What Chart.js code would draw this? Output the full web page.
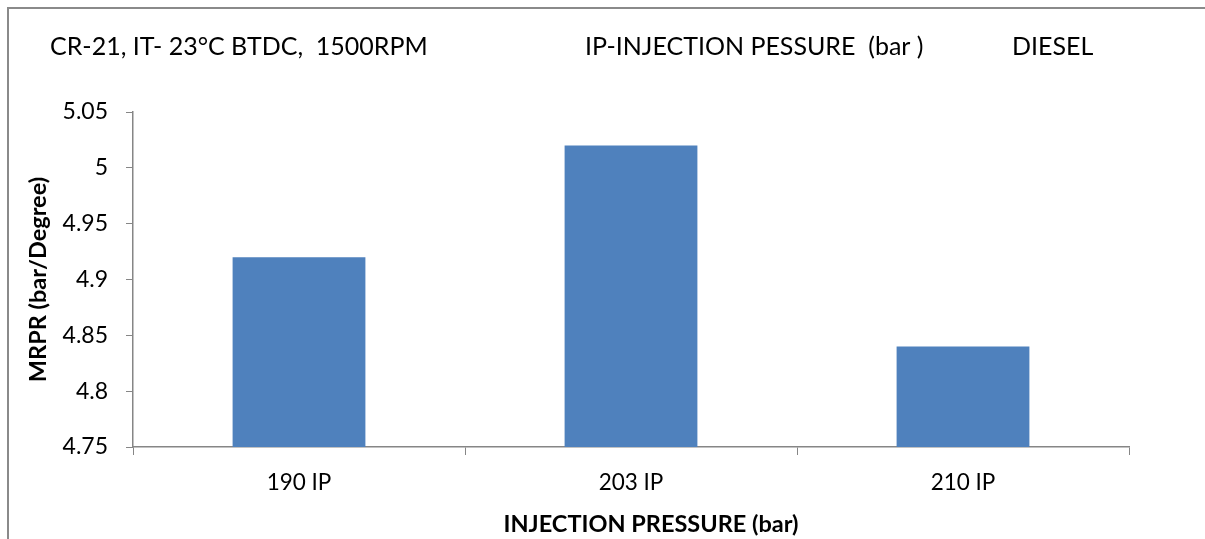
<!DOCTYPE html>
<html>
<head>
<meta charset="utf-8">
<script src="https://cdn.jsdelivr.net/npm/chart.js@4/dist/chart.umd.min.js"></script>
<style>
  html, body { margin: 0; padding: 0; background: #fff; }
  #wrap { width: 1205px; height: 539px; position: relative; }
</style>
</head>
<body>
<div id="wrap"><canvas id="mrpr_chart"></canvas></div>
<script>
// data
const categories = ['190 IP', '203 IP', '210 IP'];
const mrprValues = [4.92, 5.02, 4.84];
const yTicks = [4.75, 4.8, 4.85, 4.9, 4.95, 5, 5.05];

const headerTexts = [
  { text: 'CR-21, IT- 23°C BTDC,  1500RPM', x: 50 },
  { text: 'IP-INJECTION PESSURE  (bar )', x: 585 },
  { text: 'DIESEL', x: 1012 }
];
const xTitle = 'INJECTION PRESSURE (bar)';

const FONT = 'Lato, "Open Sans", sans-serif';

// frame round the chart, header line, x title (sits a bit right of centre)
const frameAndHeader = {
  id: 'frameAndHeader',
  beforeDraw(chart) {
    const ctx = chart.ctx;
    ctx.save();
    ctx.fillStyle = '#fff';
    ctx.fillRect(0, 0, chart.width, chart.height);
    ctx.strokeStyle = '#8a8a8a';
    ctx.lineWidth = 2;
    ctx.strokeRect(8, 8, 1220, 600);
    ctx.restore();
  },
  afterDraw(chart) {
    const ctx = chart.ctx;
    ctx.save();
    ctx.fillStyle = '#000';
    ctx.font = '25px ' + FONT;
    ctx.textAlign = 'left';
    ctx.textBaseline = 'middle';
    headerTexts.forEach(h => ctx.fillText(h.text, h.x, 47));
    ctx.font = 'bold 23.5px ' + FONT;
    ctx.textAlign = 'center';
    ctx.fillText(xTitle, 651, 524);
    ctx.restore();
  }
};

const ctx = document.getElementById('mrpr_chart');
const mrprChart = new Chart(ctx, {
  type: 'bar',
  data: {
    labels: categories,
    datasets: [{
      label: 'MRPR',
      data: mrprValues,
      backgroundColor: '#4f81bd',
      borderWidth: 0,
      categoryPercentage: 0.8,
      barPercentage: 0.5
    }]
  },
  options: {
    responsive: true,
    maintainAspectRatio: false,
    animation: false,
    layout: { padding: { top: 112, right: 76, left: 0, bottom: 0 } },
    plugins: {
      legend: { display: false },
      tooltip: { enabled: false }
    },
    scales: {
      x: {
        grid: {
          drawOnChartArea: false,
          drawTicks: true,
          tickLength: 8,
          color: '#868686'
        },
        border: { display: true, color: '#868686', width: 1.5 },
        ticks: { color: '#000', font: { family: FONT, size: 22.5 }, padding: 14 },
        title: { display: false },
        afterFit(scale) { scale.height = 92; }
      },
      y: {
        min: 4.75,
        max: 5.05,
        afterBuildTicks(scale) { scale.ticks = yTicks.map(v => ({ value: v })); },
        grid: {
          drawOnChartArea: false,
          drawTicks: true,
          tickLength: 7,
          color: '#868686'
        },
        border: { display: true, color: '#868686', width: 1.5 },
        ticks: {
          color: '#000',
          font: { family: FONT, size: 23 },
          padding: 18,
          callback: v => String(Number(Number(v).toFixed(2)))
        },
        title: {
          display: true,
          text: 'MRPR (bar/Degree)',
          color: '#000',
          font: { family: FONT, size: 23.5, weight: 'bold' },
          padding: { top: 24, bottom: 0 }
        },
        afterFit(scale) { scale.width = 133; }
      }
    }
  },
  plugins: [frameAndHeader]
});
</script>
</body>
</html>
